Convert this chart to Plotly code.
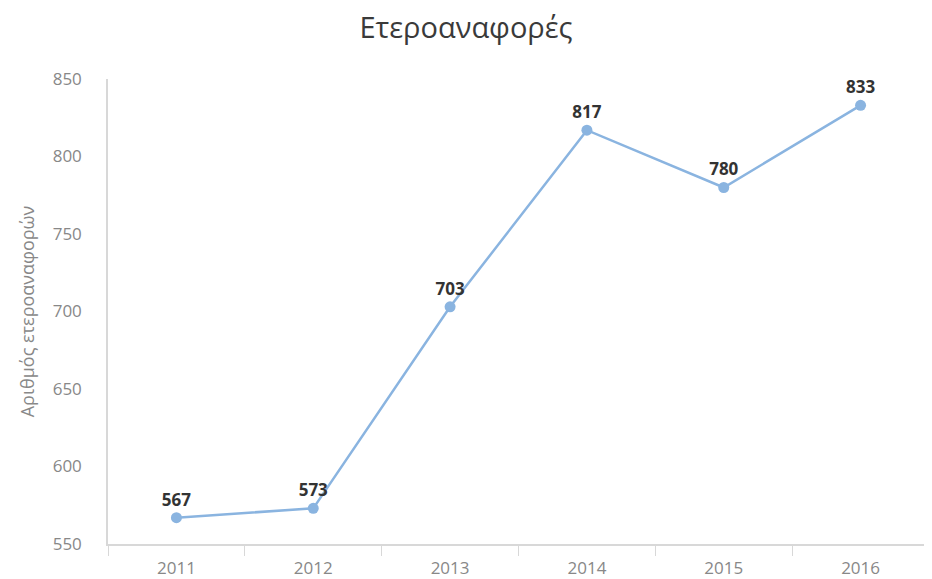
import plotly.graph_objects as go

years = ["2011", "2012", "2013", "2014", "2015", "2016"]
values = [567, 573, 703, 817, 780, 833]
y_ticks = [550, 600, 650, 700, 750, 800, 850]

fig = go.Figure()
fig.add_trace(go.Scatter(
    x=years, y=values, mode="lines+markers+text",
    line=dict(color="#8ab4e0", width=2.5),
    marker=dict(color="#8ab4e0", size=11),
    text=[f"<b>{v}</b>" for v in values],
    textposition="top center",
    textfont=dict(family="Open Sans", size=17, color="#333333"),
    cliponaxis=False,
    hoverinfo="x+y",
))

fig.update_layout(
    width=924, height=571,
    margin=dict(l=100, r=3, t=71, b=35),
    paper_bgcolor="white", plot_bgcolor="white",
    showlegend=False,
    title=dict(text="Ετεροαναφορές", x=0.4957, xanchor="center", y=0.966, yanchor="middle",
               font=dict(family="Open Sans", size=29, color="#3a3a3a")),
    font=dict(family="Open Sans", color="#888888"),
)
fig.update_xaxes(
    type="category", tickson="boundaries", ticks="outside", ticklen=10,
    tickcolor="#d8d8d8", showline=True, linecolor="#d8d8d8", linewidth=1.5,
    showgrid=False, tickfont=dict(size=17, color="#888888"),
    ticklabelstandoff=8, automargin=False,
    range=[-0.5, 5.5],
)
fig.update_yaxes(
    range=[550, 850], tickvals=y_ticks, showgrid=False, zeroline=False,
    showline=True, linecolor="#d8d8d8", linewidth=1.5, ticks="",
    ticklabelstandoff=21,
    tickfont=dict(size=17, color="#888888"),
    title=dict(text="Αριθμός ετεροαναφορών", font=dict(size=18, color="#888888"), standoff=13),
)

fig.write_html("out.html")
